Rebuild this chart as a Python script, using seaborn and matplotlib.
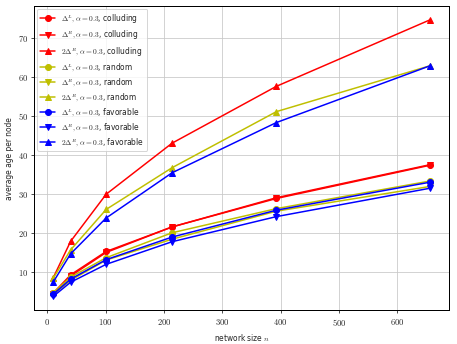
import matplotlib
matplotlib.use("Agg")
import matplotlib.pyplot as plt
import matplotlib.ticker as mticker
import seaborn as sns

# network sizes
n = [10, 40, 101, 214, 393, 657]

# colluding
col_L = [4.5, 9.2, 15.2, 21.5, 29.0, 37.5]
col_R = [4.2, 8.9, 14.95, 21.5, 28.8, 37.35]
col_2R = [8.4, 17.8, 29.9, 43.0, 57.6, 74.7]

# random
ran_L = [4.6, 8.6, 13.6, 20.0, 26.2, 33.3]
ran_R = [4.15, 7.8, 13.0, 18.35, 25.55, 31.9]
ran_2R = [8.3, 15.6, 26.0, 36.7, 51.1, 62.9]

# favorable
fav_L = [4.2, 8.1, 13.1, 18.9, 25.8, 33.0]
fav_R = [3.65, 7.3, 11.9, 17.7, 24.15, 31.45]
fav_2R = [7.3, 14.6, 23.8, 35.4, 48.3, 62.9]

strategies = ["colluding", "random", "favorable"]
colors = ["red", "#bfbf00", "blue"]
series = [
    [col_L, col_R, col_2R],
    [ran_L, ran_R, ran_2R],
    [fav_L, fav_R, fav_2R],
]
prefixes = [r"$\Delta^L, \alpha = 0.3$", r"$\Delta^R, \alpha = 0.3$", r"$2\Delta^R, \alpha = 0.3$"]
markers = ["o", "v", "^"]

sns.set_style("whitegrid", {"axes.edgecolor": "black", "grid.color": "#c8c8c8",
                            "xtick.bottom": True, "ytick.left": True})
plt.rcParams["font.family"] = ["DejaVu Sans"]
plt.rcParams["mathtext.fontset"] = "cm"

fig, ax = plt.subplots(figsize=(457 / 72, 344 / 72), dpi=72)

for strat, color, vals in zip(strategies, colors, series):
    for prefix, marker, y in zip(prefixes, markers, vals):
        sns.lineplot(x=n, y=y, ax=ax, color=color, marker=marker,
                     markersize=6, markeredgecolor=color, markeredgewidth=1,
                     linewidth=1.5, label=f"{prefix}, {strat}")

ax.set_xlabel("network size $n$", fontsize=7.5)
ax.set_ylabel("average age per node", fontsize=7.5)
ax.xaxis.set_major_formatter(mticker.FuncFormatter(lambda v, p: f"${v:g}$"))
ax.yaxis.set_major_formatter(mticker.FuncFormatter(lambda v, p: f"${v:g}$"))
ax.tick_params(labelsize=8.5, length=3)
for s in ax.spines.values():
    s.set_color("black")
    s.set_linewidth(1.0)

ax.legend(loc="upper left", fontsize=7.5, framealpha=0.8, handlelength=2.0,
          borderaxespad=0.4, labelspacing=0.45)

fig.subplots_adjust(left=0.075, right=0.983, top=0.983, bottom=0.098)
fig.savefig("out.png", dpi=72)
